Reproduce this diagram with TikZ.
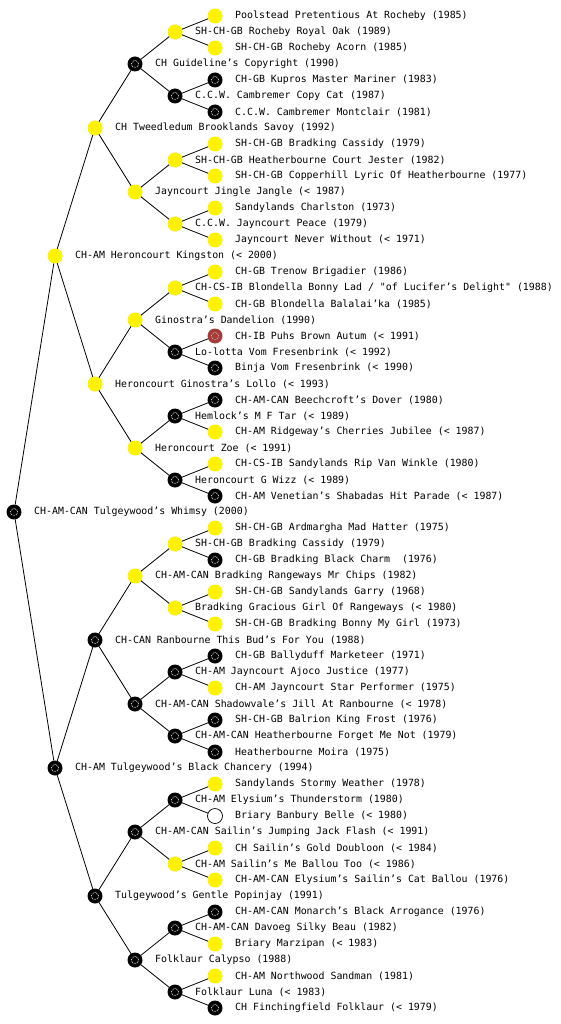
\documentclass[tikz,border=0pt]{standalone}
\usepackage{fontspec}
\newfontfamily\pixmono{DejaVu Sans Mono}
\definecolor{brn}{RGB}{165,60,55}
\tikzset{
  dot/.style={circle, minimum size=15pt, inner sep=0pt, outer sep=0pt},
  ylw/.style={dot, fill=yellow},
  blk/.style={dot, fill=black, path picture={\draw[white, densely dotted, line width=0.7pt] (path picture bounding box.center) circle (3.6pt);}},
  brw/.style={dot, fill=brn, path picture={\draw[white!70!brn, densely dotted, line width=0.7pt] (path picture bounding box.center) circle (3.6pt);}},
  wht/.style={dot, fill=white, draw=black, line width=0.7pt},
  lbl/.style={anchor=west, inner sep=0pt, font=\pixmono\fontsize{9.9pt}{11pt}\selectfont},
  edge/.style={draw=black, line width=0.8pt}
}
\newcommand\pnode[4]{\node[#1] (p#3) at (#2pt,-#3pt) {}; \node[lbl] (t#3) at (#2pt+20pt,-#3pt) {#4};}
\begin{document}
\begin{tikzpicture}
\useasboundingbox (0,0) rectangle (560pt,-1024pt);
\fill[white] (0,0) rectangle (560pt,-1024pt);
% root
\pnode{blk}{14}{512}{CH-AM-CAN Tulgeywood’s Whimsy (2000)}
% level 1
\pnode{ylw}{55}{256}{CH-AM Heroncourt Kingston (< 2000)}
\pnode{blk}{55}{768}{CH-AM Tulgeywood’s Black Chancery (1994)}
% level 2
\pnode{ylw}{95}{128}{CH Tweedledum Brooklands Savoy (1992)}
\pnode{ylw}{95}{384}{Heroncourt Ginostra’s Lollo (< 1993)}
\pnode{blk}{95}{640}{CH-CAN Ranbourne This Bud’s For You (1988)}
\pnode{blk}{95}{896}{Tulgeywood’s Gentle Popinjay (1991)}
% level 3
\pnode{blk}{135}{64}{CH Guideline’s Copyright (1990)}
\pnode{ylw}{135}{192}{Jayncourt Jingle Jangle (< 1987)}
\pnode{ylw}{135}{320}{Ginostra’s Dandelion (1990)}
\pnode{ylw}{135}{448}{Heroncourt Zoe (< 1991)}
\pnode{ylw}{135}{576}{CH-AM-CAN Bradking Rangeways Mr Chips (1982)}
\pnode{blk}{135}{704}{CH-AM-CAN Shadowvale’s Jill At Ranbourne (< 1978)}
\pnode{blk}{135}{832}{CH-AM-CAN Sailin’s Jumping Jack Flash (< 1991)}
\pnode{blk}{135}{960}{Folklaur Calypso (1988)}
% level 4
\pnode{ylw}{175}{32}{SH-CH-GB Rocheby Royal Oak (1989)}
\pnode{blk}{175}{96}{C.C.W. Cambremer Copy Cat (1987)}
\pnode{ylw}{175}{160}{SH-CH-GB Heatherbourne Court Jester (1982)}
\pnode{ylw}{175}{224}{C.C.W. Jayncourt Peace (1979)}
\pnode{ylw}{175}{288}{CH-CS-IB Blondella Bonny Lad / "of Lucifer’s Delight" (1988)}
\pnode{blk}{175}{352}{Lo-lotta Vom Fresenbrink (< 1992)}
\pnode{blk}{175}{416}{Hemlock’s M F Tar (< 1989)}
\pnode{blk}{175}{480}{Heroncourt G Wizz (< 1989)}
\pnode{ylw}{175}{544}{SH-CH-GB Bradking Cassidy (1979)}
\pnode{ylw}{175}{608}{Bradking Gracious Girl Of Rangeways (< 1980)}
\pnode{blk}{175}{672}{CH-AM Jayncourt Ajoco Justice (1977)}
\pnode{blk}{175}{736}{CH-AM-CAN Heatherbourne Forget Me Not (1979)}
\pnode{blk}{175}{800}{CH-AM Elysium’s Thunderstorm (1980)}
\pnode{ylw}{175}{864}{CH-AM Sailin’s Me Ballou Too (< 1986)}
\pnode{blk}{175}{928}{CH-AM-CAN Davoeg Silky Beau (1982)}
\pnode{blk}{175}{992}{Folklaur Luna (< 1983)}
% level 5
\pnode{ylw}{215}{16}{Poolstead Pretentious At Rocheby (1985)}
\pnode{ylw}{215}{48}{SH-CH-GB Rocheby Acorn (1985)}
\pnode{blk}{215}{80}{CH-GB Kupros Master Mariner (1983)}
\pnode{blk}{215}{112}{C.C.W. Cambremer Montclair (1981)}
\pnode{ylw}{215}{144}{SH-CH-GB Bradking Cassidy (1979)}
\pnode{ylw}{215}{176}{SH-CH-GB Copperhill Lyric Of Heatherbourne (1977)}
\pnode{ylw}{215}{208}{Sandylands Charlston (1973)}
\pnode{ylw}{215}{240}{Jayncourt Never Without (< 1971)}
\pnode{ylw}{215}{272}{CH-GB Trenow Brigadier (1986)}
\pnode{ylw}{215}{304}{CH-GB Blondella Balalai’ka (1985)}
\pnode{brw}{215}{336}{CH-IB Puhs Brown Autum (< 1991)}
\pnode{blk}{215}{368}{Binja Vom Fresenbrink (< 1990)}
\pnode{blk}{215}{400}{CH-AM-CAN Beechcroft’s Dover (1980)}
\pnode{ylw}{215}{432}{CH-AM Ridgeway’s Cherries Jubilee (< 1987)}
\pnode{ylw}{215}{464}{CH-CS-IB Sandylands Rip Van Winkle (1980)}
\pnode{blk}{215}{496}{CH-AM Venetian’s Shabadas Hit Parade (< 1987)}
\pnode{ylw}{215}{528}{SH-CH-GB Ardmargha Mad Hatter (1975)}
\pnode{blk}{215}{560}{CH-GB Bradking Black Charm \ (1976)}
\pnode{ylw}{215}{592}{SH-CH-GB Sandylands Garry (1968)}
\pnode{ylw}{215}{624}{SH-CH-GB Bradking Bonny My Girl (1973)}
\pnode{blk}{215}{656}{CH-GB Ballyduff Marketeer (1971)}
\pnode{ylw}{215}{688}{CH-AM Jayncourt Star Performer (1975)}
\pnode{blk}{215}{720}{SH-CH-GB Balrion King Frost (1976)}
\pnode{blk}{215}{752}{Heatherbourne Moira (1975)}
\pnode{ylw}{215}{784}{Sandylands Stormy Weather (1978)}
\pnode{wht}{215}{816}{Briary Banbury Belle (< 1980)}
\pnode{ylw}{215}{848}{CH Sailin’s Gold Doubloon (< 1984)}
\pnode{ylw}{215}{880}{CH-AM-CAN Elysium’s Sailin’s Cat Ballou (1976)}
\pnode{blk}{215}{912}{CH-AM-CAN Monarch’s Black Arrogance (1976)}
\pnode{ylw}{215}{944}{Briary Marzipan (< 1983)}
\pnode{ylw}{215}{976}{CH-AM Northwood Sandman (1981)}
\pnode{blk}{215}{1008}{CH Finchingfield Folklaur (< 1979)}
% edges
\foreach \y/\d in {512/256, 256/128, 768/128,
  128/64, 384/64, 640/64, 896/64,
  64/32, 192/32, 320/32, 448/32, 576/32, 704/32, 832/32, 960/32,
  32/16, 96/16, 160/16, 224/16, 288/16, 352/16, 416/16, 480/16,
  544/16, 608/16, 672/16, 736/16, 800/16, 864/16, 928/16, 992/16} {
  \pgfmathtruncatemacro\ya{\y-\d}
  \pgfmathtruncatemacro\yb{\y+\d}
  \draw[edge] (p\y) -- (p\ya);
  \draw[edge] (p\y) -- (p\yb);
}
\end{tikzpicture}
\end{document}
